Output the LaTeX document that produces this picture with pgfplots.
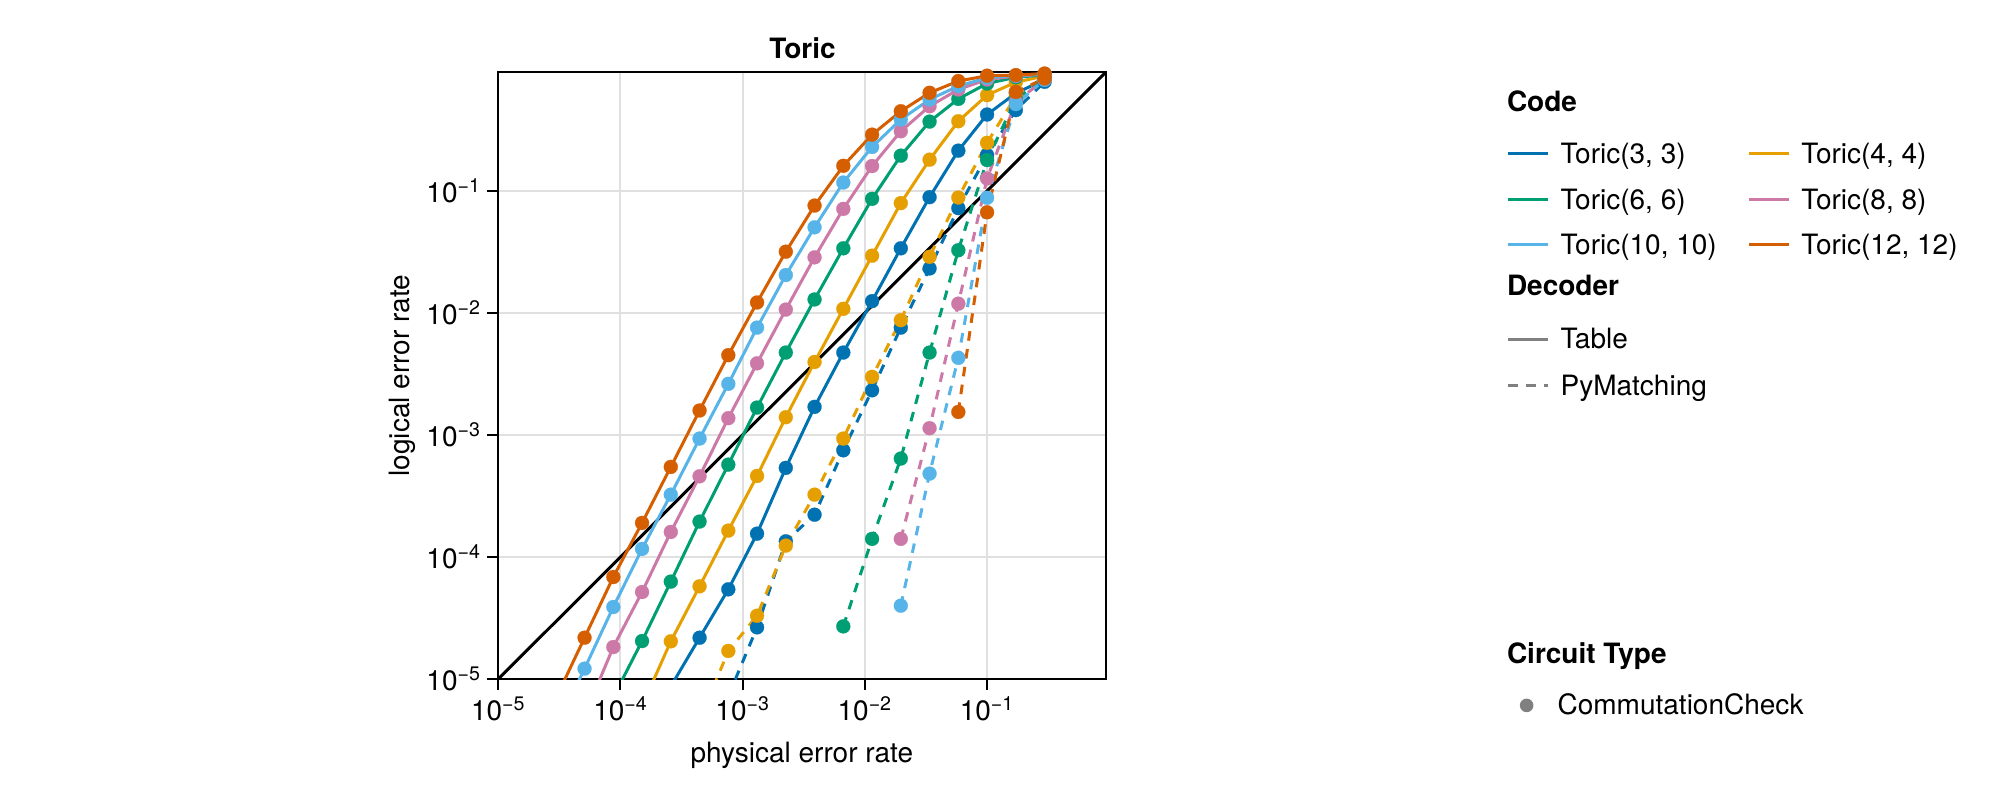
\documentclass[border=0pt]{standalone}
\usepackage{fontspec}
\setmainfont{TeX Gyre Heros}
\usepackage{pgfplots}
\usepackage{pgfplotstable}
\pgfplotsset{compat=1.18}
\definecolor{cB}{RGB}{0,114,178}
\definecolor{cO}{RGB}{230,159,0}
\definecolor{cG}{RGB}{0,158,115}
\definecolor{cP}{RGB}{204,121,167}
\definecolor{cS}{RGB}{86,180,233}
\definecolor{cV}{RGB}{213,94,0}
\definecolor{cGray}{RGB}{128,128,128}
\newcommand{\fs}{\fontsize{14}{16}\selectfont}

% Table decoder (solid)
\pgfplotstableread{
x y
2.5809e-4 8.7e-6
4.4367e-4 2.18e-5
7.6270e-4 5.43e-5
1.3111e-3 1.552e-4
2.2539e-3 5.37e-4
3.8747e-3 1.698e-3
6.6608e-3 4.73e-3
1.1451e-2 1.247e-2
1.9684e-2 3.38e-2
3.3839e-2 8.87e-2
5.8172e-2 0.2133
0.1 0.4217
0.17191 0.631
0.29552 0.813
}\TA
\pgfplotstableread{
x y
1.5013e-4 6.0e-6
2.5809e-4 2.037e-5
4.4367e-4 5.75e-5
7.6270e-4 1.644e-4
1.3111e-3 4.61e-4
2.2539e-3 1.396e-3
3.8747e-3 3.96e-3
6.6608e-3 1.079e-2
1.1451e-2 2.94e-2
1.9684e-2 7.93e-2
3.3839e-2 0.1799
5.8172e-2 0.3715
0.1 0.608
0.17191 0.776
0.29552 0.871
}\TB
\pgfplotstableread{
x y
8.7332e-5 7.1e-6
1.5013e-4 2.046e-5
2.5809e-4 6.28e-5
4.4367e-4 1.950e-4
7.6270e-4 5.71e-4
1.3111e-3 1.675e-3
2.2539e-3 4.73e-3
3.8747e-3 1.288e-2
6.6608e-3 3.38e-2
1.1451e-2 8.59e-2
1.9684e-2 0.1941
3.3839e-2 0.3690
5.8172e-2 0.5662
0.1 0.7568
0.17191 0.851
0.29552 0.891
}\TC
\pgfplotstableread{
x y
5.0802e-5 5.0e-6
8.7332e-5 1.828e-5
1.5013e-4 5.16e-5
2.5809e-4 1.603e-4
4.4367e-4 4.58e-4
7.6270e-4 1.371e-3
1.3111e-3 3.86e-3
2.2539e-3 1.064e-2
3.8747e-3 2.85e-2
6.6608e-3 7.11e-2
1.1451e-2 0.1596
1.9684e-2 0.3076
3.3839e-2 0.4932
5.8172e-2 0.6761
0.1 0.8166
0.17191 0.871
0.29552 0.902
}\TD
\pgfplotstableread{
x y
2.9552e-5 3.9e-6
5.0802e-5 1.216e-5
8.7332e-5 3.89e-5
1.5013e-4 1.164e-4
2.5809e-4 3.24e-4
4.4367e-4 9.33e-4
7.6270e-4 2.62e-3
1.3111e-3 7.57e-3
2.2539e-3 2.04e-2
3.8747e-3 5.02e-2
6.6608e-3 0.1169
1.1451e-2 0.2286
1.9684e-2 0.3837
3.3839e-2 0.5598
5.8172e-2 0.7211
0.1 0.8433
0.17191 0.881
0.29552 0.906
}\TE
\pgfplotstableread{
x y
2.9552e-5 6.92e-6
5.0802e-5 2.18e-5
8.7332e-5 6.85e-5
1.5013e-4 1.901e-4
2.5809e-4 5.47e-4
4.4367e-4 1.585e-3
7.6270e-4 4.50e-3
1.3111e-3 1.216e-2
2.2539e-3 3.17e-2
3.8747e-3 7.57e-2
6.6608e-3 0.1603
1.1451e-2 0.2884
1.9684e-2 0.4487
3.3839e-2 0.6353
5.8172e-2 0.7925
0.1 0.877
0.17191 0.887
0.29552 0.914
}\TF

% PyMatching decoder (dashed)
\pgfplotstableread{
x y
7.6270e-4 7.24e-6
1.3111e-3 2.65e-5
2.2539e-3 1.343e-4
3.8747e-3 2.22e-4
6.6608e-3 7.48e-4
1.1451e-2 2.32e-3
1.9684e-2 7.57e-3
3.3839e-2 2.31e-2
5.8172e-2 7.21e-2
0.1 0.1963
0.17191 0.4581
0.29552 0.7816
}\PA
\pgfplotstableread{
x y
4.4367e-4 4.57e-6
7.6270e-4 1.698e-5
1.3111e-3 3.30e-5
2.2539e-3 1.239e-4
3.8747e-3 3.24e-4
6.6608e-3 9.33e-4
1.1451e-2 2.99e-3
1.9684e-2 8.71e-3
3.3839e-2 2.88e-2
5.8172e-2 8.81e-2
0.1 0.2472
0.17191 0.5957
0.29552 0.851
}\PB
\pgfplotstableread{
x y
6.6608e-3 2.70e-5
1.1451e-2 1.406e-4
1.9684e-2 6.40e-4
3.3839e-2 4.73e-3
5.8172e-2 3.26e-2
0.1 0.1786
0.17191 0.5623
0.29552 0.832
}\PC
\pgfplotstableread{
x y
1.9684e-2 1.406e-4
3.3839e-2 1.135e-3
5.8172e-2 1.189e-2
0.1 0.1262
0.17191 0.537
0.29552 0.813
}\PD
\pgfplotstableread{
x y
1.9684e-2 3.99e-5
3.3839e-2 4.82e-4
5.8172e-2 4.28e-3
0.1 8.77e-2
0.17191 0.513
0.29552 0.813
}\PE
\pgfplotstableread{
x y
5.8172e-2 1.542e-3
0.1 6.67e-2
0.17191 0.6457
0.29552 0.832
}\PF
\pgfplotstableread{
x y
1e-5 1e-5
1 1
}\DIAG

\pgfplotsset{
  dot/.style={only marks, mark=*, mark size=3.5pt, #1, mark options={solid, line width=0.1pt, draw=#1, fill=#1}},
  dsh/.style={dash pattern=on 4.8pt off 4.2pt},
}

\begin{document}
\begin{tikzpicture}
\useasboundingbox (0,0) rectangle (1000pt,400pt);
\begin{axis}[
  at={(249.15pt,60.5pt)}, anchor=south west,
  scale only axis, width=303.7pt, height=303.35pt,
  xmode=log, ymode=log,
  xmin=1e-5, xmax=0.935, ymin=1e-5, ymax=0.935,
  xtick={1e-5,1e-4,1e-3,1e-2,1e-1},
  ytick={1e-5,1e-4,1e-3,1e-2,1e-1},
  xticklabels={10\textsuperscript{−5},10\textsuperscript{−4},10\textsuperscript{−3},10\textsuperscript{−2},10\textsuperscript{−1}},
  yticklabels={10\textsuperscript{−5},10\textsuperscript{−4},10\textsuperscript{−3},10\textsuperscript{−2},10\textsuperscript{−1}},
  xminorticks=false, yminorticks=false,
  grid=major,
  major grid style={line width=1pt, black!12},
  axis line style={line width=1pt},
  major tick style={line width=1pt, black},
  tick align=outside, major tick length=5.5pt,
  tick pos=left,
  ticklabel style={font=\fs},
  xticklabel style={inner sep=3pt},
  yticklabel style={inner sep=3pt},
  clip=true,
  every axis plot/.append style={line width=1.5pt},
]
\addplot[black, no marks] table {\DIAG};
% lines
\addplot[cB, no marks] table {\TA};
\addplot[cB, no marks, dsh] table {\PA};
\addplot[cO, no marks] table {\TB};
\addplot[cO, no marks, dsh] table {\PB};
\addplot[cG, no marks] table {\TC};
\addplot[cG, no marks, dsh] table {\PC};
\addplot[cP, no marks] table {\TD};
\addplot[cP, no marks, dsh] table {\PD};
\addplot[cS, no marks] table {\TE};
\addplot[cS, no marks, dsh] table {\PE};
\addplot[cV, no marks] table {\TF};
\addplot[cV, no marks, dsh] table {\PF};
% markers
\addplot[dot=cB] table {\TA};
\addplot[dot=cB] table {\PA};
\addplot[dot=cO] table {\TB};
\addplot[dot=cO] table {\PB};
\addplot[dot=cG] table {\TC};
\addplot[dot=cG] table {\PC};
\addplot[dot=cP] table {\TD};
\addplot[dot=cP] table {\PD};
\addplot[dot=cS] table {\TE};
\addplot[dot=cS] table {\PE};
\addplot[dot=cV] table {\TF};
\addplot[dot=cV] table {\PF};
\end{axis}

% titles and axis labels
\node[anchor=base, inner sep=0pt, font=\fs\bfseries] at (401.25pt,370.6pt) {Toric};
\node[anchor=base, inner sep=0pt, font=\fs] at (400.9pt,18.7pt) {physical error rate};
\node[anchor=base, inner sep=0pt, font=\fs, rotate=90] at (204.5pt,212.2pt) {logical error rate};

% legend: Code
\node[anchor=base west, inner sep=0pt, font=\fs\bfseries] at (753.3pt,344.2pt) {Code};
\begin{axis}[hide axis, at={(0pt,0pt)}, anchor=south west, scale only axis,
  width=1000pt, height=400pt, xmin=0, xmax=1, ymin=0, ymax=1,
  legend columns=2, legend cell align=left,
  legend style={at={(0.7533,0.82075)}, anchor=north west, draw=none, fill=none,
    inner sep=0pt, outer sep=0pt, row sep=9.9pt, font=\fs,
    nodes={inner sep=0pt, text height=10pt, text depth=3pt},
    /tikz/every odd column/.style={column sep=5.5pt},
    /tikz/every even column/.style={column sep=15.3pt}},
  legend image code/.code={\draw[#1, line width=1.5pt] (0pt,1.5pt) -- (20pt,1.5pt);}]
\addlegendimage{cB}\addlegendentry{Toric(3, 3)}
\addlegendimage{cO}\addlegendentry{Toric(4, 4)}
\addlegendimage{cG}\addlegendentry{Toric(6, 6)}
\addlegendimage{cP}\addlegendentry{Toric(8, 8)}
\addlegendimage{cS}\addlegendentry{Toric(10, 10)}
\addlegendimage{cV}\addlegendentry{Toric(12, 12)}
\end{axis}

% legend: Decoder
\node[anchor=base west, inner sep=0pt, font=\fs\bfseries] at (753.3pt,252.5pt) {Decoder};
\begin{axis}[hide axis, at={(0pt,0pt)}, anchor=south west, scale only axis,
  width=1000pt, height=400pt, xmin=0, xmax=1, ymin=0, ymax=1,
  legend columns=1, legend cell align=left,
  legend style={at={(0.7533,0.5892)}, anchor=north west, draw=none, fill=none,
    inner sep=0pt, outer sep=0pt, row sep=10.4pt, font=\fs,
    nodes={inner sep=0pt, text height=10pt, text depth=3pt},
    /tikz/every odd column/.style={column sep=5.5pt}},
  legend image code/.code={\draw[#1, line width=1.5pt] (0pt,1.3pt) -- (20pt,1.3pt);}]
\addlegendimage{cGray}\addlegendentry{Table}
\addlegendimage{cGray, dsh}\addlegendentry{PyMatching}
\end{axis}

% legend: Circuit Type
\node[anchor=base west, inner sep=0pt, font=\fs\bfseries] at (753.3pt,68.3pt) {Circuit Type};
\begin{axis}[hide axis, at={(0pt,0pt)}, anchor=south west, scale only axis,
  width=1000pt, height=400pt, xmin=0, xmax=1, ymin=0, ymax=1,
  legend columns=1, legend cell align=left,
  legend style={at={(0.7533,0.132)}, anchor=north west, draw=none, fill=none,
    inner sep=0pt, outer sep=0pt, font=\fs,
    nodes={inner sep=0pt, text height=10pt, text depth=3pt},
    /tikz/every odd column/.style={column sep=5.5pt}},
  legend image code/.code={\path[draw=none] (0pt,0pt) -- (20pt,0pt); \fill[#1, draw=none] (10pt,1pt) circle (3.4pt);}]
\addlegendimage{cGray}\addlegendentry{CommutationCheck}
\end{axis}
\end{tikzpicture}
\end{document}
